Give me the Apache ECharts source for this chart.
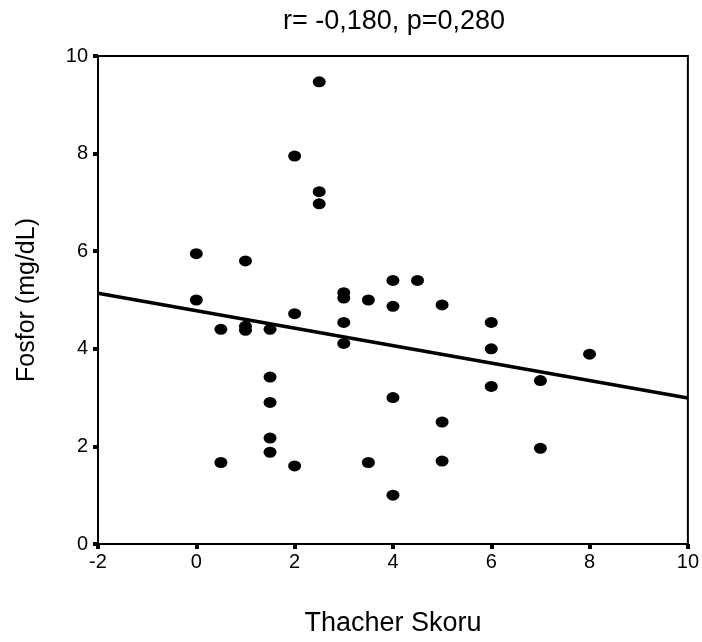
<!DOCTYPE html>
<html>
<head>
<meta charset="utf-8">
<script src="https://cdn.jsdelivr.net/npm/echarts@6/dist/echarts.min.js"></script>
<style>
html,body{margin:0;padding:0;background:#fff;}
#chart{width:702px;height:642px;}
</style>
</head>
<body>
<div id="chart"></div>
<script>
// Thacher score (x) and phosphorus (y) values
var thacherScore = [0, 0, 0.5, 0.5, 1, 1, 1, 1.5, 1.5, 1.5, 1.5, 1.5, 2, 2, 2, 2.5, 2.5, 2.5, 3, 3, 3, 3, 3.5, 3.5, 4, 4, 4, 4, 4.5, 5, 5, 5, 6, 6, 6, 7, 7, 8];
var fosfor =       [5.95, 5.0, 4.4, 1.67, 5.8, 4.46, 4.38, 4.4, 3.42, 2.9, 2.17, 1.88, 7.95, 4.72, 1.6, 9.47, 7.22, 6.97, 5.15, 5.04, 4.54, 4.11, 5.0, 1.67, 5.4, 4.87, 3.0, 1.0, 5.4, 4.9, 2.5, 1.7, 4.54, 4.0, 3.23, 3.35, 1.96, 3.89];
// regression line end points
var fitX = [-2, 10];
var fitY = [5.14, 2.99];
var xTicks = [-2, 0, 2, 4, 6, 8, 10];
var yTicks = [0, 2, 4, 6, 8, 10];
var titleText = 'r= -0,180, p=0,280';
var xName = 'Thacher Skoru';
var yName = 'Fosfor (mg/dL)';

var points = thacherScore.map(function (x, i) { return [x, fosfor[i]]; });
var fitLine = fitX.map(function (x, i) { return [x, fitY[i]]; });

var font = 'Liberation Sans, Arial, sans-serif';
var chart = echarts.init(document.getElementById('chart'), null, {renderer: 'canvas'});
chart.setOption({
  backgroundColor: '#ffffff',
  animation: false,
  title: {
    text: titleText,
    left: 389,
    textAlign: 'center',
    top: 3,
    textStyle: {fontFamily: font, fontSize: 27, fontWeight: 'normal', color: '#000'}
  },
  grid: {
    left: 98, right: 13, top: 56, bottom: 97,
    show: true, borderColor: '#000', borderWidth: 2, backgroundColor: '#fff'
  },
  xAxis: {
    type: 'value',
    min: xTicks[0], max: xTicks[xTicks.length - 1], interval: 2,
    name: xName, nameLocation: 'middle', nameGap: 66,
    nameTextStyle: {fontFamily: font, fontSize: 27, color: '#000'},
    axisLine: {show: true, onZero: false, lineStyle: {color: '#000', width: 2}},
    axisTick: {show: true, length: 5, lineStyle: {color: '#000', width: 4}},
    axisLabel: {fontFamily: font, fontSize: 20, color: '#000', margin: 8},
    splitLine: {show: false}
  },
  yAxis: {
    type: 'value',
    min: yTicks[0], max: yTicks[yTicks.length - 1], interval: 2,
    name: yName, nameLocation: 'middle', nameGap: 58, nameRotate: 90,
    nameTextStyle: {fontFamily: font, fontSize: 25, color: '#000'},
    axisLine: {show: true, onZero: false, lineStyle: {color: '#000', width: 2}},
    axisTick: {show: true, length: 5, lineStyle: {color: '#000', width: 4}},
    axisLabel: {fontFamily: font, fontSize: 20, color: '#000', margin: 10},
    splitLine: {show: false}
  },
  series: [
    {
      type: 'line',
      data: fitLine,
      symbol: 'none',
      lineStyle: {color: '#000', width: 3.5},
      silent: true,
      z: 2
    },
    {
      type: 'scatter',
      data: points,
      symbol: 'circle',
      symbolSize: [13, 11],
      itemStyle: {color: '#000', opacity: 1},
      z: 3
    }
  ]
});
</script>
</body>
</html>
